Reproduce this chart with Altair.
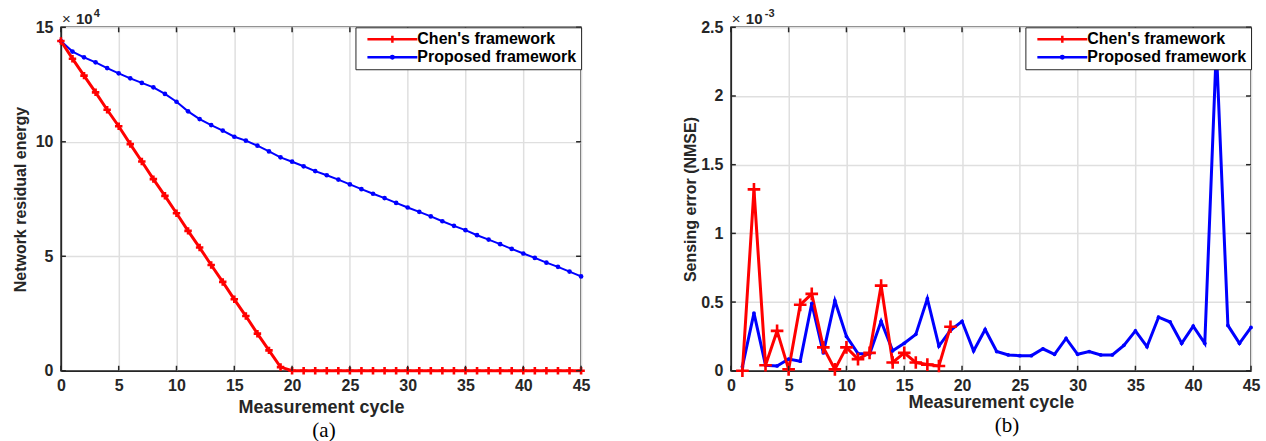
import altair as alt
import pandas as pd

# ---------------- data ----------------
cycles_a = list(range(0, 46))
chen_energy = [14.40, 13.63, 12.89, 12.16, 11.40, 10.68, 9.90, 9.14, 8.37, 7.64,
               6.88, 6.11, 5.38, 4.62, 3.88, 3.12, 2.39, 1.62, 0.89, 0.16,
               0.0, 0.0, 0.0, 0.0, 0.0, 0.0, 0.0, 0.0, 0.0, 0.0,
               0.0, 0.0, 0.0, 0.0, 0.0, 0.0, 0.0, 0.0, 0.0, 0.0,
               0.0, 0.0, 0.0, 0.0, 0.0, 0.0]
proposed_energy = [14.40, 13.94, 13.69, 13.47, 13.22, 12.99, 12.77, 12.57, 12.38, 12.09,
                   11.75, 11.33, 10.99, 10.73, 10.49, 10.22, 10.05, 9.83, 9.58, 9.32,
                   9.13, 8.93, 8.72, 8.54, 8.35, 8.14, 7.93, 7.73, 7.54, 7.33,
                   7.13, 6.94, 6.74, 6.53, 6.33, 6.14, 5.92, 5.73, 5.53, 5.32,
                   5.12, 4.93, 4.72, 4.54, 4.33, 4.12]

cycles_chen_b = list(range(1, 20))
chen_nmse = [0.0, 1.32, 0.04, 0.29, 0.01, 0.48, 0.56, 0.17, 0.01, 0.17,
             0.085, 0.13, 0.62, 0.06, 0.13, 0.06, 0.045, 0.035, 0.32]
cycles_prop_b = list(range(1, 46))
proposed_nmse = [0.03, 0.42, 0.04, 0.035, 0.085, 0.07, 0.49, 0.13, 0.51, 0.25,
                 0.125, 0.12, 0.36, 0.145, 0.20, 0.265, 0.525, 0.18, 0.295, 0.36,
                 0.145, 0.30, 0.14, 0.115, 0.11, 0.11, 0.16, 0.12, 0.235, 0.12,
                 0.14, 0.115, 0.115, 0.185, 0.29, 0.175, 0.39, 0.355, 0.20, 0.325,
                 0.20, 2.35, 0.33, 0.20, 0.315]

series_names = ["Chen's framework", "Proposed framework"]
series_colors = ["#ff0000", "#0000ff"]
x_ticks = [0, 5, 10, 15, 20, 25, 30, 35, 40, 45]
y_ticks_a = [0, 5, 10, 15]
y_ticks_b = [0, 0.5, 1, 1.5, 2, 2.5]

# ---------------- styling ----------------
W, H = 521, 344
FONT = "Liberation Sans"
DARK = "#262626"
PLUS = "M-1,0L1,0M0,-1L0,1"
LEG_PLUS = "M-5,0L5,0M0,-0.7L0,0.7"
LEG_DOT = "M-5,0L5,0M-0.25,0A0.25,0.25 0 1,0 0.25,0A0.25,0.25 0 1,0 -0.25,0"


def panel(x_vals_c, y_c, x_vals_p, y_p, y_ticks, y_max, y_title, y_tpad, exp_text, exp_dx,
          caption, cap_dx, red_w, blue_w, plus_size, plus_w, dot_size, xt_pad):
    df_c = pd.DataFrame({"cycle": x_vals_c, "value": y_c})
    df_p = pd.DataFrame({"cycle": x_vals_p, "value": y_p})
    xs = alt.Scale(domain=[0, 45], nice=False)
    ys = alt.Scale(domain=[0, y_max], nice=False)
    x_enc = alt.X("cycle:Q", scale=xs,
                  axis=alt.Axis(values=x_ticks, format="d", title="Measurement cycle",
                                labelPadding=7, titlePadding=xt_pad, titleFontSize=18,
                                labelFlush=False))
    y_enc = alt.Y("value:Q", scale=ys,
                  axis=alt.Axis(values=y_ticks, format="~g", title=y_title,
                                labelPadding=8, titlePadding=y_tpad,
                                titleFontSize=16, labelFlush=False))

    blue_line = alt.Chart(df_p).mark_line(color=series_colors[1], strokeWidth=blue_w).encode(x=x_enc, y=y_enc)
    blue_pts = alt.Chart(df_p).mark_circle(color=series_colors[1], opacity=1, size=dot_size).encode(x="cycle:Q", y="value:Q")
    red_line = alt.Chart(df_c).mark_line(color=series_colors[0], strokeWidth=red_w).encode(x="cycle:Q", y="value:Q")
    red_pts = alt.Chart(df_c).mark_point(shape=PLUS, color=series_colors[0], filled=False,
                                         strokeWidth=plus_w, size=plus_size, opacity=1).encode(x="cycle:Q", y="value:Q")

    # legend layer (no visible marks, only legend entries)
    df_leg = pd.DataFrame({"series": series_names})
    leg = alt.Chart(df_leg).transform_filter("false").mark_point(filled=False, opacity=1).encode(
        color=alt.Color("series:N", scale=alt.Scale(domain=series_names, range=series_colors),
                        legend=alt.Legend(title=None, orient="top-right", offset=0, padding=4,
                                          strokeColor=DARK, fillColor="white",
                                          symbolSize=100, symbolStrokeWidth=2.5,
                                          symbolOffset=25, labelOffset=17,
                                          labelFont=FONT, labelFontWeight="bold",
                                          labelFontSize=16, labelColor="black",
                                          rowPadding=1, cornerRadius=0)),
        shape=alt.Shape("series:N", scale=alt.Scale(domain=series_names, range=[LEG_PLUS, LEG_DOT])),
    )

    # inward ticks (MATLAB style)
    df_xt = pd.DataFrame({"t": x_ticks})
    df_yt = pd.DataFrame({"t": y_ticks})
    tick_b = alt.Chart(df_xt).mark_rule(color=DARK, strokeWidth=1.5).encode(
        x=alt.X("t:Q", scale=xs), y=alt.value(H), y2=alt.value(H - 5))
    tick_t = alt.Chart(df_xt).mark_rule(color=DARK, strokeWidth=1.5).encode(
        x=alt.X("t:Q", scale=xs), y=alt.value(0), y2=alt.value(5))
    tick_l = alt.Chart(df_yt).mark_rule(color=DARK, strokeWidth=1.5).encode(
        y=alt.Y("t:Q", scale=ys), x=alt.value(0), x2=alt.value(5))
    tick_r = alt.Chart(df_yt).mark_rule(color=DARK, strokeWidth=1.5).encode(
        y=alt.Y("t:Q", scale=ys), x=alt.value(W - 5), x2=alt.value(W))

    df_one = pd.DataFrame({"k": [0]})
    times = alt.Chart(df_one).mark_text(font=FONT, fontSize=15, color=DARK, align="left",
                                        baseline="alphabetic").encode(
        x=alt.value(1), y=alt.value(-3), text=alt.value("×"))
    ten = alt.Chart(df_one).mark_text(font=FONT, fontSize=15, fontWeight="bold", color=DARK,
                                      align="left", baseline="alphabetic").encode(
        x=alt.value(15), y=alt.value(-3), text=alt.value("10"))
    expo = alt.Chart(df_one).mark_text(font=FONT, fontSize=11, fontWeight="bold", color=DARK,
                                       align="left", baseline="alphabetic").encode(
        x=alt.value(exp_dx), y=alt.value(-10), text=alt.value(exp_text))

    return alt.layer(blue_line, red_line, blue_pts, red_pts, leg,
                     tick_b, tick_t, tick_l, tick_r, times, ten, expo).properties(
        width=W, height=H,
        title=alt.TitleParams(caption, orient="bottom", font="Liberation Serif", fontSize=21,
                              fontWeight="normal", color="black", dx=cap_dx, offset=3),
    )


left = panel(cycles_a, chen_energy, cycles_a, proposed_energy, y_ticks_a, 15,
             "Network residual energy", 7, "4", 33, "(a)", 3, 3, 2, 56, 2.6, 22, 5)
right = panel(cycles_chen_b, chen_nmse, cycles_prop_b, proposed_nmse, y_ticks_b, 2.5,
              "Sensing error (NMSE)", 2, "-3", 34, "(b)", 16, 3, 3, 160, 2.6, 14, 0)

chart = alt.hconcat(left, right, spacing=150, bounds="flush").resolve_scale(
    color="independent", shape="independent"
).resolve_legend(color="independent", shape="independent").properties(
    padding={"left": 11, "top": 7, "right": 5, "bottom": 0},
    background="white",
).configure_axis(
    labelFont=FONT, labelFontWeight="bold", labelFontSize=16, labelColor=DARK,
    titleFont=FONT, titleFontWeight="bold", titleColor=DARK,
    gridColor="#dfdfdf", gridWidth=1.5, domainColor=DARK, domainWidth=1.5, ticks=False,
).configure_view(stroke=DARK, strokeWidth=1.5)

chart.save("out.html", embed_options={"renderer": "svg", "actions": False})
